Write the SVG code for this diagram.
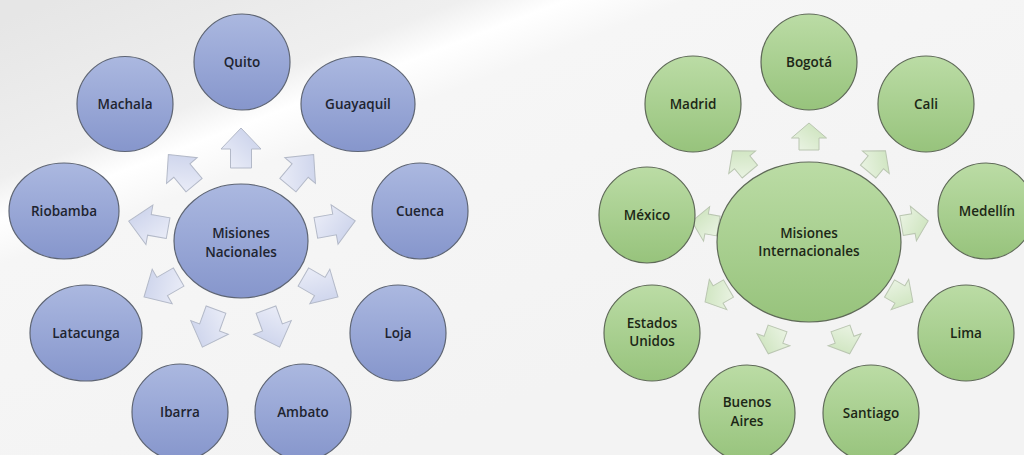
<svg xmlns="http://www.w3.org/2000/svg" xmlns:xlink="http://www.w3.org/1999/xlink" width="1024" height="455" viewBox="0 0 1024 455">
<defs>
<linearGradient id="bg" gradientUnits="userSpaceOnUse" x1="215" y1="-61" x2="409" y2="443">
<stop offset="0" stop-color="#e6e6e6"/>
<stop offset="0.27" stop-color="#efefef"/>
<stop offset="0.34" stop-color="#ffffff"/>
<stop offset="0.42" stop-color="#f6f6f6"/>
<stop offset="1" stop-color="#f3f3f3"/>
</linearGradient>
<linearGradient id="blueFill" x1="0" y1="0" x2="0" y2="1">
<stop offset="0" stop-color="#abb8e0"/>
<stop offset="1" stop-color="#8696cc"/>
</linearGradient>
<linearGradient id="greenFill" x1="0" y1="0" x2="0" y2="1">
<stop offset="0" stop-color="#bbdca5"/>
<stop offset="1" stop-color="#97c37c"/>
</linearGradient>
<linearGradient id="blueArrow" x1="0" y1="0" x2="1" y2="1">
<stop offset="0" stop-color="#eef0f9"/>
<stop offset="1" stop-color="#c6cee9"/>
</linearGradient>
<linearGradient id="greenArrow" x1="0" y1="0" x2="1" y2="1">
<stop offset="0" stop-color="#edf5e7"/>
<stop offset="1" stop-color="#c8e1b7"/>
</linearGradient>
<path id="arrL" d="M0,-10.5 L19,-10.5 L19,-20 L40,0 L19,20 L19,10.5 L0,10.5 Z"/>
<path id="arrR" d="M0,-10 L12,-10 L12,-17.5 L27,0 L12,17.5 L12,10 L0,10 Z"/>
</defs>
<style>
.nb{fill:url(#blueFill);stroke:#5e6574;stroke-width:1.2}
.ng{fill:url(#greenFill);stroke:#5f6a58;stroke-width:1.2}
.ab{fill:url(#blueArrow);stroke:#b3b9c8;stroke-width:1}
.ag{fill:url(#greenArrow);stroke:#bac6b1;stroke-width:1}
text{font-family:"Open Sans","Liberation Sans",Arial,sans-serif;font-size:13.5px;font-weight:600;text-anchor:middle;fill:#1e2430}
.tg{fill:#1c2716}
</style>
<rect x="0" y="0" width="1024" height="455" fill="url(#bg)"/>

<g id="connectors">
<g id="arrows-nacionales">
<use xlink:href="#arrL" class="ab" transform="translate(241,241) rotate(-90) translate(73,0)"/>
<use xlink:href="#arrL" class="ab" transform="translate(241,241) rotate(-130) translate(73,0)"/>
<use xlink:href="#arrL" class="ab" transform="translate(241,241) rotate(-50) translate(73,0)"/>
<use xlink:href="#arrL" class="ab" transform="translate(241,241) rotate(-170) translate(74,0)"/>
<use xlink:href="#arrL" class="ab" transform="translate(241,241) rotate(-10) translate(76,0)"/>
<use xlink:href="#arrL" class="ab" transform="translate(241,241) rotate(150) translate(72,0)"/>
<use xlink:href="#arrL" class="ab" transform="translate(241,241) rotate(30) translate(72,0)"/>
<use xlink:href="#arrL" class="ab" transform="translate(241,241) rotate(110) translate(73,0)"/>
<use xlink:href="#arrL" class="ab" transform="translate(241,241) rotate(70) translate(73,0)"/>
</g>
<g id="arrows-internacionales">
<use xlink:href="#arrR" class="ag" transform="translate(809,242) rotate(-90) translate(92,0)"/>
<use xlink:href="#arrR" class="ag" transform="translate(809,242) rotate(-130) translate(92,0)"/>
<use xlink:href="#arrR" class="ag" transform="translate(809,242) rotate(-50) translate(92,0)"/>
<use xlink:href="#arrR" class="ag" transform="translate(809,242) rotate(-170) translate(92,0)"/>
<use xlink:href="#arrR" class="ag" transform="translate(809,242) rotate(-10) translate(94,0)"/>
<use xlink:href="#arrR" class="ag" transform="translate(809,242) rotate(150) translate(93,0)"/>
<use xlink:href="#arrR" class="ag" transform="translate(809,242) rotate(30) translate(93,0)"/>
<use xlink:href="#arrR" class="ag" transform="translate(809,242) rotate(110) translate(92,0)"/>
<use xlink:href="#arrR" class="ag" transform="translate(809,242) rotate(70) translate(92,0)"/>
</g>
</g>

<g id="misiones-nacionales"><ellipse class="nb" cx="241" cy="241" rx="67" ry="57"/><text x="241" y="238">Misiones</text><text x="241" y="257">Nacionales</text></g>
<g id="quito"><ellipse class="nb" cx="242" cy="62" rx="48" ry="48"/><text x="242" y="67">Quito</text></g>
<g id="machala"><ellipse class="nb" cx="125" cy="104" rx="48" ry="47.5"/><text x="125" y="109">Machala</text></g>
<g id="guayaquil"><ellipse class="nb" cx="358" cy="104" rx="57" ry="47.5"/><text x="358" y="109">Guayaquil</text></g>
<g id="riobamba"><ellipse class="nb" cx="64" cy="211" rx="55" ry="48"/><text x="64" y="216">Riobamba</text></g>
<g id="cuenca"><ellipse class="nb" cx="420" cy="211" rx="48" ry="48"/><text x="420" y="216">Cuenca</text></g>
<g id="latacunga"><ellipse class="nb" cx="86" cy="333" rx="56" ry="48"/><text x="86" y="338">Latacunga</text></g>
<g id="loja"><ellipse class="nb" cx="398" cy="333" rx="48" ry="48"/><text x="398" y="338">Loja</text></g>
<g id="ibarra"><ellipse class="nb" cx="180" cy="412" rx="48" ry="48"/><text x="180" y="417">Ibarra</text></g>
<g id="ambato"><ellipse class="nb" cx="303" cy="412" rx="48" ry="48"/><text x="303" y="417">Ambato</text></g>

<g id="misiones-internacionales"><ellipse class="ng" cx="809" cy="242" rx="92" ry="80"/><text class="tg" x="809" y="238">Misiones</text><text class="tg" x="809" y="256">Internacionales</text></g>
<g id="bogota"><ellipse class="ng" cx="809" cy="62" rx="48" ry="48"/><text class="tg" x="809" y="67">Bogotá</text></g>
<g id="madrid"><ellipse class="ng" cx="693" cy="104" rx="48" ry="48"/><text class="tg" x="693" y="109">Madrid</text></g>
<g id="cali"><ellipse class="ng" cx="926" cy="104" rx="48" ry="48"/><text class="tg" x="926" y="109">Cali</text></g>
<g id="mexico"><ellipse class="ng" cx="647" cy="215" rx="48" ry="48"/><text class="tg" x="647" y="220">México</text></g>
<g id="medellin"><ellipse class="ng" cx="986" cy="211" rx="48" ry="48"/><text class="tg" x="987" y="216">Medellín</text></g>
<g id="estados-unidos"><ellipse class="ng" cx="652" cy="333" rx="48" ry="48"/><text class="tg" x="652" y="328">Estados</text><text class="tg" x="652" y="346">Unidos</text></g>
<g id="lima"><ellipse class="ng" cx="966" cy="333" rx="48" ry="48"/><text class="tg" x="966" y="338">Lima</text></g>
<g id="buenos-aires"><ellipse class="ng" cx="747" cy="413" rx="48" ry="48"/><text class="tg" x="747" y="407">Buenos</text><text class="tg" x="747" y="426">Aires</text></g>
<g id="santiago"><ellipse class="ng" cx="871" cy="413" rx="48" ry="48"/><text class="tg" x="871" y="418">Santiago</text></g>
</svg>
